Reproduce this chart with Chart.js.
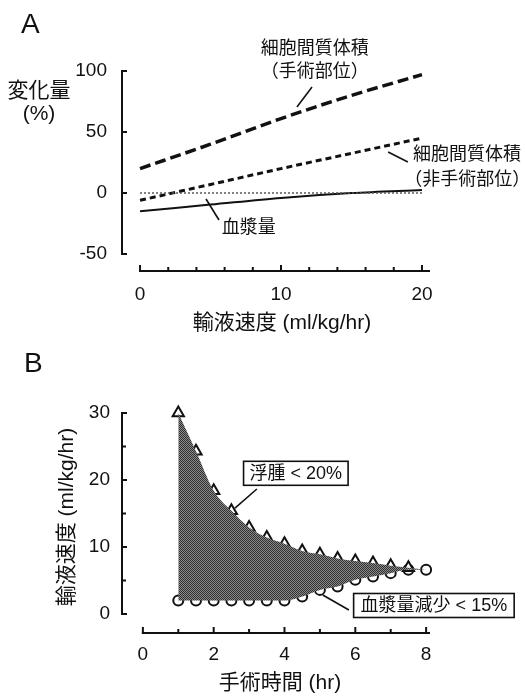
<!DOCTYPE html>
<html><head><meta charset="utf-8">
<script src="https://cdn.jsdelivr.net/npm/chart.js@4.4.1/dist/chart.umd.min.js"></script>
<style>
html,body{margin:0;padding:0;background:#fff;width:525px;height:696px;overflow:hidden}
canvas{display:block;position:absolute;left:0}
#ca{top:0}#cb{top:340px}
</style></head><body>
<canvas id="ca" width="525" height="340"></canvas>
<canvas id="cb" width="525" height="356"></canvas>
<script>
// ---------- Panel A data ----------
const rateX = [0, 5, 10, 15, 20];
const isfSurgical = [20, 40, 61, 80, 97];
const isfNonSurgical = [-6, 7, 20, 32.5, 45];
const plasmaVolume = [-15, -9.5, -4, 0, 2.5];
const zeroLine = [0, 0, 0, 0, 0];
const rateTicks = [0, 10, 20];
const rateMinorTicks = [0, 2, 4, 6, 8, 10, 12, 14, 16, 18, 20];
const changeTicks = [-50, 0, 50, 100];

// ---------- Panel B data ----------
const hoursEdema = [1, 1.5, 2, 2.5, 3, 3.5, 4, 4.5, 5, 5.5, 6, 6.5, 7, 7.5];
const edemaLimit = [30, 24.3, 18.4, 15.4, 12.9, 11.4, 10.5, 9.4, 8.9, 8.3, 7.9, 7.6, 7.2, 6.9];
const hoursPlasma = [1, 1.5, 2, 2.5, 3, 3.5, 4, 4.5, 5, 5.5, 6, 6.5, 7, 7.5, 8];
const plasmaLimit = [2, 2, 2, 2, 2, 2, 2, 2.6, 3.6, 4.1, 5.1, 5.6, 6.1, 6.6, 6.6];
const hourTicks = [0, 2, 4, 6, 8];
const hourMinorTicks = [0, 1, 2, 3, 4, 5, 6, 7, 8];
const infusionTicks = [0, 10, 20, 30];
const infusionMinorTicks = [0, 5, 10, 15, 20, 25, 30];

const FONT = '"Liberation Sans", "Noto Sans CJK JP", Arial, sans-serif';
const pts = (xs, ys) => xs.map((x, i) => ({x, y: ys[i]}));

function axesPlugin(cfg) {
  return {
    id: 'customAxes',
    afterDraw(chart) {
      const ctx = chart.ctx, a = chart.chartArea;
      const xs = chart.scales.x, ys = chart.scales.y;
      ctx.save();
      ctx.strokeStyle = '#111'; ctx.lineWidth = 2; ctx.lineCap = 'butt';
      // y axis
      const ax = a.left;
      ctx.beginPath();
      ctx.moveTo(ax, ys.getPixelForValue(cfg.yMin) + 1);
      ctx.lineTo(ax, ys.getPixelForValue(cfg.yMax) - 1);
      ctx.stroke();
      cfg.yMinor.forEach(v => {
        const y = ys.getPixelForValue(v);
        const len = cfg.yMajor.includes(v) ? 5 : 4;
        ctx.beginPath(); ctx.moveTo(ax - 1, y); ctx.lineTo(ax + len, y); ctx.stroke();
      });
      // x axis (detached)
      const ay = a.bottom + cfg.xOffset;
      ctx.beginPath();
      ctx.moveTo(xs.getPixelForValue(cfg.xMinor[0]) - 1, ay);
      ctx.lineTo(a.right, ay);
      ctx.stroke();
      cfg.xMinor.forEach(v => {
        const x = xs.getPixelForValue(v);
        const len = cfg.xMajor.includes(v) ? 6 : 4;
        ctx.beginPath(); ctx.moveTo(x, ay + 1); ctx.lineTo(x, ay - len); ctx.stroke();
      });
      ctx.restore();
    }
  };
}

function textPlugin(drawFn) {
  return { id: 'texts', afterDraw(chart) { const ctx = chart.ctx; ctx.save(); drawFn(chart, ctx); ctx.restore(); } };
}

function line(ctx, x1, y1, x2, y2, w) {
  ctx.strokeStyle = '#111'; ctx.lineWidth = w || 1.6;
  ctx.beginPath(); ctx.moveTo(x1, y1); ctx.lineTo(x2, y2); ctx.stroke();
}

// ---------- Chart A ----------
new Chart(document.getElementById('ca'), {
  type: 'scatter',
  data: {
    datasets: [
      { data: pts(rateX, zeroLine), showLine: true, borderColor: '#555', borderWidth: 1.5, borderDash: [2, 2], pointRadius: 0 },
      { data: pts(rateX, isfSurgical), showLine: true, borderColor: '#111', borderWidth: 3.5, borderDash: [11, 5], pointRadius: 0, cubicInterpolationMode: 'monotone' },
      { data: pts(rateX, isfNonSurgical), showLine: true, borderColor: '#111', borderWidth: 3, borderDash: [6, 4], pointRadius: 0, cubicInterpolationMode: 'monotone' },
      { data: pts(rateX, plasmaVolume), showLine: true, borderColor: '#111', borderWidth: 2, pointRadius: 0, cubicInterpolationMode: 'monotone' }
    ]
  },
  options: {
    responsive: false, animation: false, devicePixelRatio: 1,
    layout: { padding: { left: 0, right: 95, top: 71, bottom: 36 } },
    plugins: { legend: { display: false }, tooltip: { enabled: false } },
    scales: {
      x: {
        type: 'linear', min: -1.28, max: 20.57,
        grid: { display: false }, border: { display: false },
        afterBuildTicks: s => { s.ticks = rateTicks.map(v => ({ value: v })); },
        afterFit: s => { s.height = 50; },
        ticks: { padding: 21, color: '#111', font: { family: FONT, size: 19 } }
      },
      y: {
        type: 'linear', min: -50, max: 100,
        grid: { display: false }, border: { display: false },
        afterBuildTicks: s => { s.ticks = changeTicks.map(v => ({ value: v })); },
        afterFit: s => { s.width = 122; },
        ticks: { padding: 7, color: '#111', font: { family: FONT, size: 19 } }
      }
    }
  },
  plugins: [
    axesPlugin({ yMin: -50, yMax: 100, yMajor: changeTicks, yMinor: changeTicks, xOffset: 17, xMajor: rateTicks, xMinor: rateMinorTicks }),
    textPlugin((chart, ctx) => {
      const xs = chart.scales.x, ys = chart.scales.y;
      const X = v => xs.getPixelForValue(v), Y = v => ys.getPixelForValue(v);
      ctx.fillStyle = '#111';
      ctx.textBaseline = 'alphabetic'; ctx.textAlign = 'left';
      ctx.font = '28px ' + FONT; ctx.fillText('A', 21, 33);
      ctx.textBaseline = 'middle';
      ctx.font = '21px ' + FONT; ctx.textAlign = 'center';
      ctx.fillText('変化量', 39, 91);
      ctx.fillText('(%)', 39, 114);
      ctx.fillText('輸液速度 (ml/kg/hr)', 282, 323);
      ctx.font = '18px ' + FONT;
      ctx.fillText('細胞間質体積', X(12.4), Y(118));
      ctx.fillText('（手術部位）', X(12.4), Y(99.2));
      ctx.textAlign = 'left';
      ctx.fillText('細胞間質体積', X(19.36), Y(31.1));
      ctx.fillText('（非手術部位）', X(18.75), Y(10.7));
      ctx.fillText('血漿量', X(5.8), Y(-28.7));
      line(ctx, X(12.2), Y(86.9), X(11.13), Y(70.5));
      line(ctx, X(17.6), Y(33.6), X(19.0), Y(25.4));
      line(ctx, X(4.68), Y(-4.9), X(5.6), Y(-22.1));
    })
  ]
});

// ---------- Chart B ----------
function stipple() {
  const c = document.createElement('canvas'); c.width = 2; c.height = 2;
  const g = c.getContext('2d');
  g.fillStyle = '#8a8a8a'; g.fillRect(0, 0, 2, 2);
  g.fillStyle = '#303030'; g.fillRect(0, 0, 1, 1); g.fillRect(1, 1, 1, 1);
  return g.createPattern(c, 'repeat');
}
const fillPattern = stipple();
const upperEdge = pts(hoursEdema, edemaLimit).concat([{ x: hoursPlasma[hoursPlasma.length - 1], y: plasmaLimit[plasmaLimit.length - 1] }]);

new Chart(document.getElementById('cb'), {
  type: 'scatter',
  data: {
    datasets: [
      { data: upperEdge, showLine: true, borderWidth: 0, borderColor: 'rgba(0,0,0,0)', backgroundColor: fillPattern, pointRadius: 0, fill: '+1', tension: 0.3, cubicInterpolationMode: 'monotone' },
      { data: pts(hoursPlasma, plasmaLimit), showLine: true, borderWidth: 0, borderColor: 'rgba(0,0,0,0)', pointRadius: 0, fill: false, cubicInterpolationMode: 'monotone' },
      { data: pts(hoursEdema, edemaLimit), showLine: false, pointStyle: 'triangle', pointRadius: 6.5, pointBorderWidth: 2, pointBorderColor: '#111', pointBackgroundColor: '#fff', clip: false },
      { data: pts(hoursPlasma, plasmaLimit), showLine: false, pointStyle: 'circle', pointRadius: 5, pointBorderWidth: 2, pointBorderColor: '#111', pointBackgroundColor: '#fff', clip: false }
    ]
  },
  options: {
    responsive: false, animation: false, devicePixelRatio: 1,
    layout: { padding: { left: 0, right: 95, top: 73, bottom: 32 } },
    plugins: { legend: { display: false }, tooltip: { enabled: false } },
    scales: {
      x: {
        type: 'linear', min: -0.59, max: 8.11,
        grid: { display: false }, border: { display: false },
        afterBuildTicks: s => { s.ticks = hourTicks.map(v => ({ value: v })); },
        afterFit: s => { s.height = 50; },
        ticks: { padding: 21, color: '#111', font: { family: FONT, size: 19 } }
      },
      y: {
        type: 'linear', min: 0, max: 30,
        grid: { display: false }, border: { display: false },
        afterBuildTicks: s => { s.ticks = infusionTicks.map(v => ({ value: v })); },
        afterFit: s => { s.width = 122; },
        ticks: { padding: 4, color: '#111', font: { family: FONT, size: 19 } }
      }
    }
  },
  plugins: [
    axesPlugin({ yMin: 0, yMax: 30, yMajor: infusionTicks, yMinor: infusionMinorTicks, xOffset: 19, xMajor: hourTicks, xMinor: hourMinorTicks }),
    textPlugin((chart, ctx) => {
      const xs = chart.scales.x, ys = chart.scales.y;
      const X = v => xs.getPixelForValue(v), Y = v => ys.getPixelForValue(v);
      ctx.fillStyle = '#111';
      ctx.textBaseline = 'alphabetic'; ctx.textAlign = 'left';
      ctx.font = '28px ' + FONT; ctx.fillText('B', 24, 32);
      ctx.textBaseline = 'middle'; ctx.textAlign = 'center';
      ctx.font = '21px ' + FONT;
      ctx.fillText('手術時間 (hr)', 280, 343);
      ctx.save();
      ctx.translate(67, 177); ctx.rotate(-Math.PI / 2);
      ctx.fillText('輸液速度 (ml/kg/hr)', 0, 0);
      ctx.restore();
      // leader lines
      line(ctx, X(3.22), Y(18.66), X(2.6), Y(15.8));
      line(ctx, X(5.08), Y(2.84), X(5.82), Y(0.6));
      // boxed labels
      ctx.font = '18px ' + FONT;
      const box = (txt, cx, cy, padX) => {
        const w = ctx.measureText(txt).width + 2 * padX, h = 24;
        ctx.fillStyle = '#fff';
        ctx.fillRect(cx - w / 2, cy - h / 2, w, h);
        ctx.strokeStyle = '#111'; ctx.lineWidth = 1.6;
        ctx.strokeRect(cx - w / 2, cy - h / 2, w, h);
        ctx.fillStyle = '#111';
        ctx.fillText(txt, cx, cy + 1);
      };
      box('浮腫 < 20%', X(4.32), Y(21.0), 6);
      box('血漿量減少 < 15%', X(8.22), Y(1.27), 7);
    })
  ]
});
</script>
</body></html>
